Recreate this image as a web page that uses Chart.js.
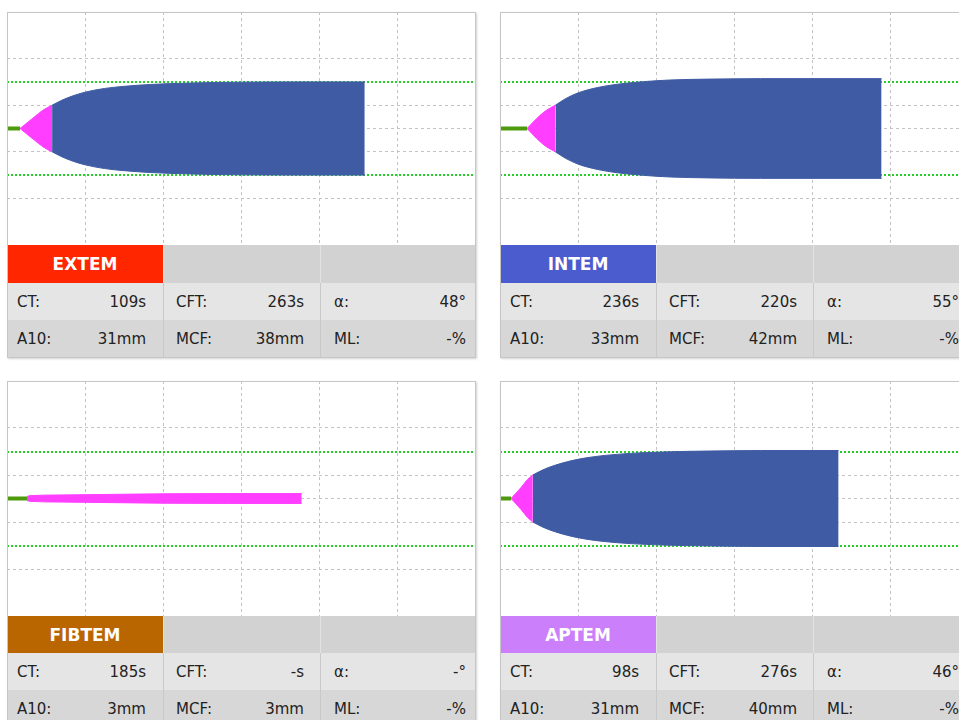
<!DOCTYPE html>
<html>
<head>
<meta charset="utf-8">
<script src="https://cdn.jsdelivr.net/npm/chart.js@4.4.1/dist/chart.umd.min.js"></script>
<style>
html,body{margin:0;padding:0;background:#fff;}
body{width:959px;height:720px;overflow:hidden;position:relative;font-family:"DejaVu Sans",sans-serif;color:#222;}
.panel{position:absolute;width:469px;}
.chartbox{position:absolute;left:0;top:0;width:469px;}
.chartbox canvas{display:block;}
.frame{position:absolute;left:0;top:0;width:469px;border:1px solid #c6c6c6;box-sizing:border-box;pointer-events:none;box-shadow:1px 1px 2px rgba(0,0,0,0.18);}
.tbl{position:absolute;left:0;width:469px;}
.row{display:flex;width:469px;}
.cell{position:relative;box-sizing:border-box;height:100%;}
.c1{width:156px;}
.c2{width:157px;}
.c3{width:156px;}
.hdr .cell{background:#d2d2d2;}
.hdr .c2,.hdr .c3{border-left:1px solid #e2e2e2;}
.hdr .name{color:#fff;font-weight:bold;font-size:17px;display:flex;align-items:center;justify-content:center;}
.r2{background:#e5e5e5;}
.r3{background:#d7d7d7;}
.r2 .c2,.r2 .c3,.r3 .c2,.r3 .c3{border-left:1px solid #c9c9c9;}
.lab,.val{position:absolute;top:50%;transform:translateY(-50%);font-size:15px;white-space:nowrap;}
.c1 .lab{left:10px;} .c1 .val{right:17px;}
.c2 .lab{left:12px;} .c2 .val{right:16px;}
.c3 .lab{left:13px;} .c3 .val{right:10px;}
</style>
</head>
<body>
<script>
// ---- table values ----
const testNames = ['EXTEM', 'INTEM', 'FIBTEM', 'APTEM'];
const headerColors = ['#ff2600', '#4b5ccf', '#b96500', '#cb7ffb'];
const ctLabels = ['109s', '236s', '185s', '98s'];
const cftLabels = ['263s', '220s', '-s', '276s'];
const alphaLabels = ['48°', '55°', '-°', '46°'];
const a10Labels = ['31mm', '33mm', '3mm', '31mm'];
const mcfLabels = ['38mm', '42mm', '3mm', '40mm'];
const mlLabels = ['-%', '-%', '-%', '-%'];

// ---- axes (time in s, half-amplitude in mm) ----
const xTicks = [0, 600, 1200, 1800, 2400, 3000, 3600];
const yMin = -50, yMax = 50, yStep = 10;
const refLevels = [-20, 20];       // green reference lines
const grayLevels = [-30, -10, 0, 10, 30];

// ---- traces: baseline end (CT), magenta (CT..CFT), blue (after CFT) ----
const extemBaseT = [0, 100];
const extemMagT = [100, 200, 280, 346];
const extemMagA = [0, 4.5, 8.0, 10];
const extemBlueT = [346, 420, 500, 600, 750, 900, 1100, 1400, 1800, 2200, 2746];
const extemBlueA = [10, 12.1, 13.9, 15.6, 17.2, 18.1, 18.9, 19.5, 19.9, 20, 20];

const intemBaseT = [0, 208];
const intemMagT = [208, 280, 350, 425];
const intemMagA = [0, 4.2, 7.6, 10];
const intemBlueT = [425, 500, 600, 750, 900, 1100, 1300, 1600, 2000, 2929];
const intemBlueA = [10, 12.7, 15.3, 17.6, 19.0, 20.1, 20.8, 21.2, 21.4, 21.4];

const fibtemBaseT = [0, 154];
const fibtemMagT = [154, 177, 400, 715, 1200, 1700, 2262];
const fibtemMagA = [0.9, 1.2, 1.5, 1.7, 2.0, 2.1, 2.1];
const fibtemBlueT = [];
const fibtemBlueA = [];

const aptemBaseT = [0, 85];
const aptemMagT = [85, 160, 210, 252];
const aptemMagA = [0, 4.6, 8.0, 10];
const aptemBlueT = [252, 330, 420, 520, 650, 800, 1000, 1250, 1600, 2000, 2599];
const aptemBlueA = [10, 12.2, 14.1, 15.7, 17.2, 18.3, 19.2, 19.8, 20.2, 20.4, 20.4];

const traces = [
  {baseT: extemBaseT, magT: extemMagT, magA: extemMagA, blueT: extemBlueT, blueA: extemBlueA},
  {baseT: intemBaseT, magT: intemMagT, magA: intemMagA, blueT: intemBlueT, blueA: intemBlueA},
  {baseT: fibtemBaseT, magT: fibtemMagT, magA: fibtemMagA, blueT: fibtemBlueT, blueA: fibtemBlueA},
  {baseT: aptemBaseT, magT: aptemMagT, magA: aptemMagA, blueT: aptemBlueT, blueA: aptemBlueA}
];

// ---- layout ----
const panelPos = [
  {left: 7, top: 12, chartH: 233, rows: [38, 37, 38]},
  {left: 500, top: 12, chartH: 233, rows: [38, 37, 38]},
  {left: 7, top: 381, chartH: 235, rows: [37, 37, 37]},
  {left: 500, top: 381, chartH: 235, rows: [37, 37, 37]}
];

const colBase = '#4d9a0c', colMag = '#ff3eff', colBlue = '#3f5ba4';
const colGrid = '#c3c3c3', colRef = '#26cf26';

function pts(ts, as, sign) { return ts.map((t, i) => ({x: t, y: sign * as[i]})); }

function buildPanel(i) {
  const p = panelPos[i], tr = traces[i];
  const panel = document.createElement('div');
  panel.className = 'panel';
  panel.style.left = p.left + 'px';
  panel.style.top = p.top + 'px';
  const totalH = p.chartH + p.rows.reduce((a, b) => a + b, 0);
  panel.style.height = totalH + 'px';

  const box = document.createElement('div');
  box.className = 'chartbox';
  box.style.height = p.chartH + 'px';
  const cv = document.createElement('canvas');
  cv.width = 469; cv.height = p.chartH;
  box.appendChild(cv);
  panel.appendChild(box);

  const tbl = document.createElement('div');
  tbl.className = 'tbl';
  tbl.style.top = p.chartH + 'px';
  tbl.innerHTML =
    `<div class="row hdr" style="height:${p.rows[0]}px"><div class="cell c1 name" style="background:${headerColors[i]}">${testNames[i]}</div><div class="cell c2"></div><div class="cell c3"></div></div>` +
    `<div class="row r2" style="height:${p.rows[1]}px"><div class="cell c1"><span class="lab">CT:</span><span class="val">${ctLabels[i]}</span></div><div class="cell c2"><span class="lab">CFT:</span><span class="val">${cftLabels[i]}</span></div><div class="cell c3"><span class="lab">α:</span><span class="val">${alphaLabels[i]}</span></div></div>` +
    `<div class="row r3" style="height:${p.rows[2]}px"><div class="cell c1"><span class="lab">A10:</span><span class="val">${a10Labels[i]}</span></div><div class="cell c2"><span class="lab">MCF:</span><span class="val">${mcfLabels[i]}</span></div><div class="cell c3"><span class="lab">ML:</span><span class="val">${mlLabels[i]}</span></div></div>`;
  panel.appendChild(tbl);

  const frame = document.createElement('div');
  frame.className = 'frame';
  frame.style.height = totalH + 'px';
  panel.appendChild(frame);
  document.body.appendChild(panel);

  const common = {pointRadius: 0, pointHoverRadius: 0, cubicInterpolationMode: 'monotone'};
  const datasets = [
    Object.assign({data: tr.baseT.map(t => ({x: t, y: 0})), borderColor: colBase, borderWidth: 4, fill: false, borderCapStyle: 'butt'}, common),
    Object.assign({data: pts(tr.magT, tr.magA, 1), borderColor: colMag, backgroundColor: colMag, borderWidth: 1, fill: '+1'}, common),
    Object.assign({data: pts(tr.magT, tr.magA, -1), borderColor: colMag, backgroundColor: colMag, borderWidth: 1, fill: false}, common)
  ];
  if (tr.blueT.length) {
    datasets.push(Object.assign({data: pts(tr.blueT, tr.blueA, 1), borderColor: colBlue, backgroundColor: colBlue, borderWidth: 1, fill: '+1'}, common));
    datasets.push(Object.assign({data: pts(tr.blueT, tr.blueA, -1), borderColor: colBlue, backgroundColor: colBlue, borderWidth: 1, fill: false}, common));
  }

  new Chart(cv, {
    type: 'line',
    data: {datasets},
    options: {
      responsive: false,
      animation: false,
      devicePixelRatio: 1,
      layout: {padding: 0},
      plugins: {legend: {display: false}, tooltip: {enabled: false}},
      events: [],
      scales: {
        x: {
          type: 'linear', min: xTicks[0], max: xTicks[xTicks.length - 1],
          afterBuildTicks: s => { s.ticks = xTicks.map(v => ({value: v})); },
          ticks: {display: false},
          grid: {drawTicks: false, lineWidth: 1,
            color: c => (c.tick && (c.tick.value === xTicks[0] || c.tick.value === xTicks[xTicks.length - 1])) ? 'rgba(0,0,0,0)' : colGrid},
          border: {display: false, dash: [3, 3]}
        },
        y: {
          type: 'linear', min: yMin, max: yMax,
          ticks: {display: false, stepSize: yStep},
          grid: {drawTicks: false,
            lineWidth: c => (c.tick && refLevels.includes(c.tick.value)) ? 2 : 1,
            color: c => {
              if (!c.tick) return 'rgba(0,0,0,0)';
              if (refLevels.includes(c.tick.value)) return colRef;
              if (grayLevels.includes(c.tick.value)) return colGrid;
              return 'rgba(0,0,0,0)';
            }},
          border: {display: false,
            dash: c => (c.tick && refLevels.includes(c.tick.value)) ? [2, 2] : [3, 3]}
        }
      }
    }
  });
}

for (let i = 0; i < 4; i++) buildPanel(i);
</script>
</body>
</html>
